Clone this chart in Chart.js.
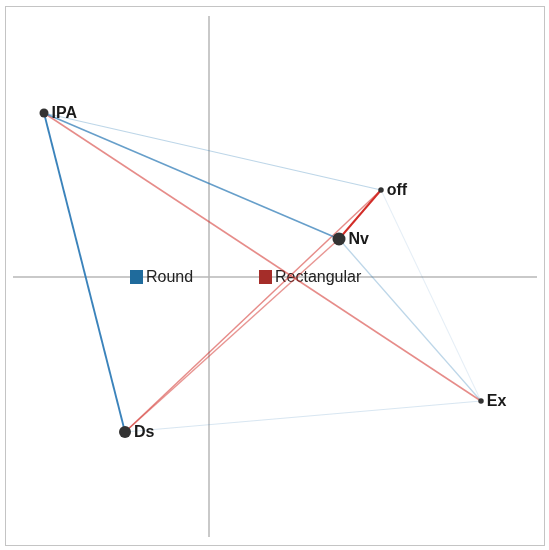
<!DOCTYPE html>
<html>
<head>
<meta charset="utf-8">
<script src="https://cdn.jsdelivr.net/npm/chart.js@4.4.0/dist/chart.umd.min.js"></script>
<style>
    body { margin: 0; background: #fff; }
    #wrap { position: relative; width: 549px; height: 550px; }
    #frame { position: absolute; left: 5px; top: 6px; width: 538px; height: 538px; border: 1px solid #c4c4c4; }
    canvas { position: absolute; left: 0; top: 0; }
</style>
</head>
<body>
<div id="wrap">
    <div id="frame"></div>
    <canvas id="netChart" width="549" height="550"></canvas>
</div>
<script>
// Nodes (map coordinates) and their weight
const nodeNames = ['IPA', 'off', 'Nv', 'Ex', 'Ds'];
const nodeX = [-1.65, 1.72, 1.30, 2.72, -0.84];
const nodeY = [1.64, 0.87, 0.38, -1.24, -1.55];
const nodeWeight = [0.6, 0.25, 1.0, 0.25, 0.9];

// Links between nodes
const edgeFrom = ['IPA', 'IPA', 'IPA', 'IPA', 'Ds', 'Ds', 'Nv', 'Nv', 'off', 'Ds'];
const edgeTo = ['Ds', 'Nv', 'off', 'Ex', 'off', 'Nv', 'off', 'Ex', 'Ex', 'Ex'];
const edgeType = ['Round', 'Round', 'Round', 'Rectangular', 'Rectangular', 'Rectangular', 'Rectangular', 'Round', 'Round', 'Round'];
const edgeStrength = [0.9, 0.7, 0.3, 0.55, 0.55, 0.5, 1.0, 0.3, 0.12, 0.18];

const legendLabels = ['Round', 'Rectangular'];

// axis ranges
const xRange = [-2.09, 3.40];
const yRange = [-2.73, 2.77];
const axisX = [-1.96, 3.28];
const axisY = [-2.60, 2.61];

const baseColor = { Round: [38, 118, 180], Rectangular: [210, 45, 40] };
const legendColor = { Round: '#1f6b9c', Rectangular: '#a52d29' };

function edgeColor(type, s) {
    const c = baseColor[type];
    return 'rgba(' + c[0] + ',' + c[1] + ',' + c[2] + ',' + s + ')';
}

const datasets = [];
edgeFrom.forEach((f, i) => {
    const a = nodeNames.indexOf(f);
    const b = nodeNames.indexOf(edgeTo[i]);
    datasets.push({
        type: 'line',
        data: [{ x: nodeX[a], y: nodeY[a] }, { x: nodeX[b], y: nodeY[b] }],
        borderColor: edgeColor(edgeType[i], edgeStrength[i]),
        borderWidth: 0.9 + edgeStrength[i] * 1.1,
        pointRadius: 0,
        fill: false,
        tension: 0,
        order: 1
    });
});
datasets.push({
    type: 'scatter',
    data: nodeNames.map((n, i) => ({ x: nodeX[i], y: nodeY[i] })),
    backgroundColor: '#333333',
    borderWidth: 0,
    pointRadius: nodeWeight.map(w => 1.5 + w * 5),
    order: 0
});

const axesPlugin = {
    id: 'axesCross',
    beforeDatasetsDraw(chart) {
        const ctx = chart.ctx;
        const xs = chart.scales.x, ys = chart.scales.y;
        ctx.save();
        ctx.strokeStyle = '#b8b8b8';
        ctx.lineWidth = 1.5;
        ctx.beginPath();
        ctx.moveTo(xs.getPixelForValue(0), ys.getPixelForValue(axisY[1]));
        ctx.lineTo(xs.getPixelForValue(0), ys.getPixelForValue(axisY[0]));
        ctx.moveTo(xs.getPixelForValue(axisX[0]), ys.getPixelForValue(0));
        ctx.lineTo(xs.getPixelForValue(axisX[1]), ys.getPixelForValue(0));
        ctx.stroke();

        // legend in the middle
        const ly = ys.getPixelForValue(0);
        const lx = [xs.getPixelForValue(-0.79), xs.getPixelForValue(0.50)];
        ctx.font = '16px "Liberation Sans", Arial, sans-serif';
        ctx.textBaseline = 'middle';
        legendLabels.forEach((l, i) => {
            ctx.fillStyle = legendColor[l];
            ctx.fillRect(lx[i], ly - 7, 13, 14);
            ctx.fillStyle = '#222';
            ctx.fillText(l, lx[i] + 16, ly + 1);
        });
        ctx.restore();
    },
    afterDatasetsDraw(chart) {
        const ctx = chart.ctx;
        const meta = chart.getDatasetMeta(chart.data.datasets.length - 1);
        ctx.save();
        ctx.font = 'bold 16px "Liberation Sans", Arial, sans-serif';
        ctx.fillStyle = '#1a1a1a';
        ctx.textBaseline = 'middle';
        meta.data.forEach((pt, i) => {
            const r = 1.5 + nodeWeight[i] * 5;
            ctx.fillText(nodeNames[i], pt.x + r + 3, pt.y + 1);
        });
        ctx.restore();
    }
};

const ctx = document.getElementById('netChart').getContext('2d');
new Chart(ctx, {
    type: 'scatter',
    data: { datasets: datasets },
    options: {
        responsive: false,
        animation: false,
        layout: { padding: 0, autoPadding: false },
        scales: {
            x: { type: 'linear', min: xRange[0], max: xRange[1], display: false },
            y: { type: 'linear', min: yRange[0], max: yRange[1], display: false }
        },
        plugins: {
            legend: { display: false },
            tooltip: { enabled: false }
        }
    },
    plugins: [axesPlugin]
});
</script>
</body>
</html>
